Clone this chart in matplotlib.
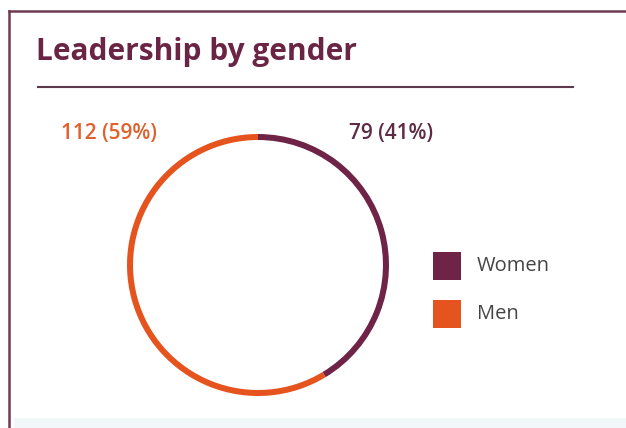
import matplotlib.pyplot as plt
from matplotlib.patches import Rectangle
from matplotlib.lines import Line2D

# Data
categories = ['Women', 'Men']
counts = [79, 112]
shares = [41, 59]
colors = ['#6e2347', '#e5541f']
label_colors = ['#5e2a45', '#e0602e']

W, H = 626, 428
fig = plt.figure(figsize=(W / 100, H / 100), dpi=100)
plt.rcParams['font.family'] = ['Open Sans', 'DejaVu Sans']

def px(x, y):
    # pixel coords (top-left origin) -> figure fraction
    return x / W, 1 - y / H

# Frame of the card
fig.add_artist(Rectangle(px(14, 428), (W - 14) / W, 10 / H, transform=fig.transFigure,
                         color='#f2f7fa', lw=0))
fig.add_artist(Line2D([9 / W, 9 / W], [1 - 11 / H, 0], transform=fig.transFigure,
                      color='#6f3a52', lw=1.8))
fig.add_artist(Line2D([9 / W, 1], [1 - 11 / H, 1 - 11 / H], transform=fig.transFigure,
                      color='#6f3a52', lw=1.8))

# Title and underline
fig.text(*px(36, 52), 'Leadership by gender', fontsize=21.5, fontweight='bold',
         color='#6a2545', va='center', ha='left')
fig.add_artist(Line2D([38 / W, 573 / W], [1 - 87 / H, 1 - 87 / H], transform=fig.transFigure,
                      color='#5c3a4b', lw=1.5))

# Donut
cx, cy, r = 258, 265, 131
ax = fig.add_axes([(cx - r) / W, (H - cy - r) / H, 2 * r / W, 2 * r / H])
ax.pie(counts, colors=colors, startangle=90, counterclock=False,
       wedgeprops=dict(width=0.046, linewidth=0))
ax.set_aspect('equal')
ax.set_xlim(-1, 1)
ax.set_ylim(-1, 1)
ax.axis('off')

# Value labels
fig.text(*px(61, 133), f'{counts[1]} ({shares[1]}%)', fontsize=15, fontweight='semibold',
         color=label_colors[1], va='center', ha='left')
fig.text(*px(349, 133), f'{counts[0]} ({shares[0]}%)', fontsize=15, fontweight='semibold',
         color=label_colors[0], va='center', ha='left')

# Legend
for i, (name, col) in enumerate(zip(categories, colors)):
    yc = 266 + i * 48
    fig.add_artist(Rectangle(px(433, yc + 14), 28 / W, 28 / H, transform=fig.transFigure,
                             color=col, lw=0))
    fig.text(*px(477, yc), name, fontsize=14.5, color='#444444', va='center', ha='left')

fig.savefig('out.png', dpi=100)
